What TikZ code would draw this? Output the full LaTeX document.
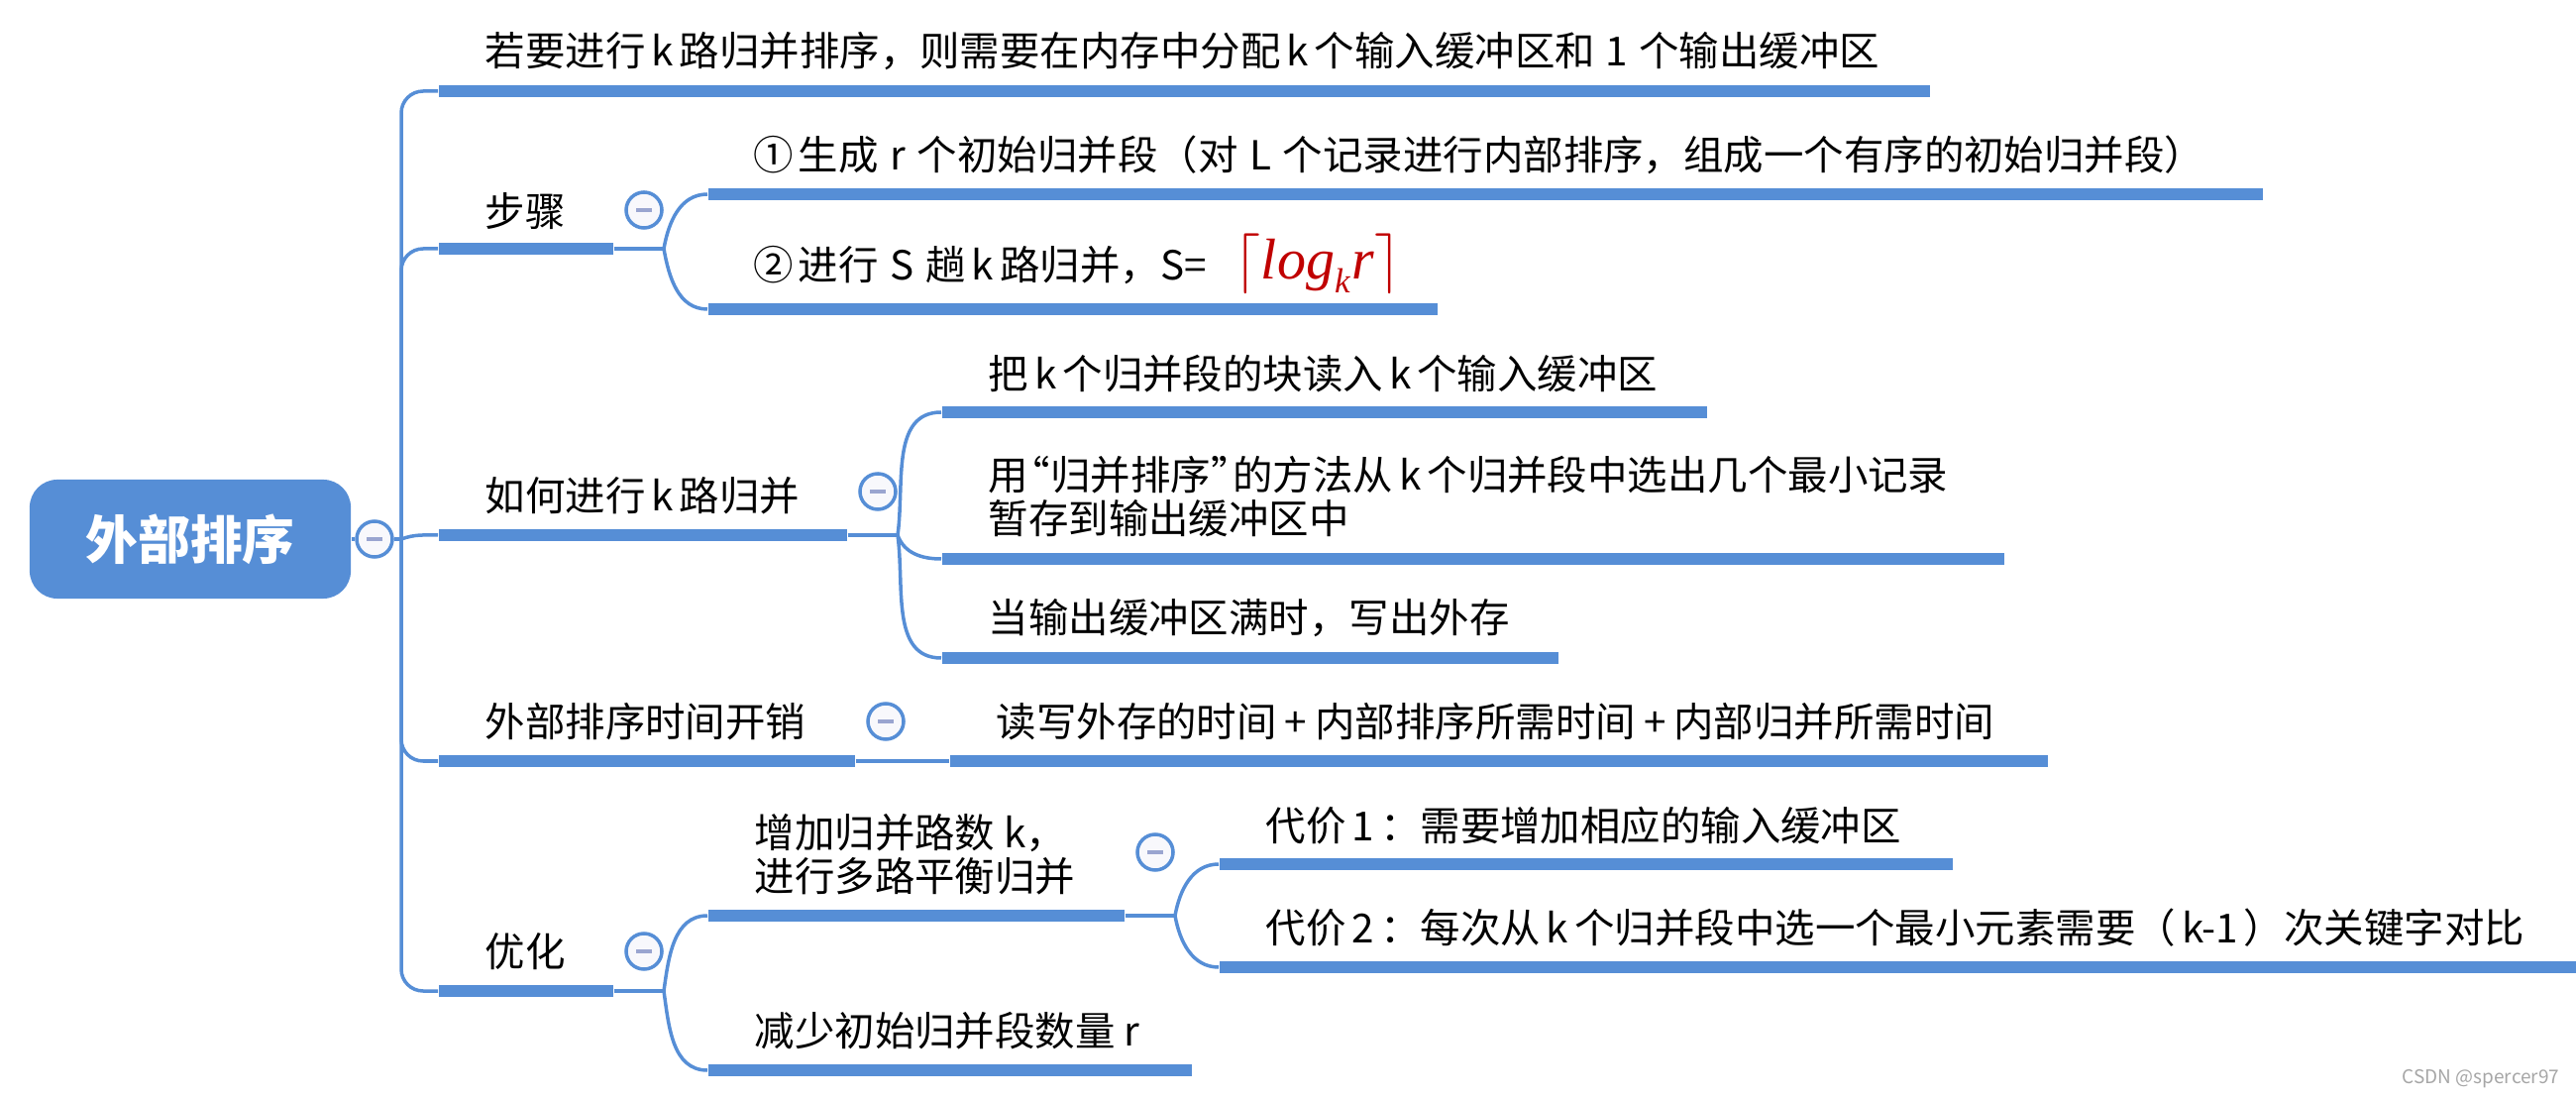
\documentclass[tikz,border=0pt]{standalone}
\usepackage{fontspec}
\setmainfont{Noto Sans CJK SC}
\newfontfamily\logfont{Liberation Serif}
\definecolor{mapblue}{RGB}{86,142,214}
\definecolor{minusgray}{RGB}{154,165,208}
\definecolor{foldfill}{RGB}{248,248,252}
\definecolor{logred}{RGB}{192,0,0}
\newcommand{\nar}[1]{\hspace{0.15em}#1\hspace{0.15em}}
\newcommand{\wid}[1]{\hspace{0.29em}#1\hspace{0.29em}}
\newcommand{\minusmark}{\textcolor{minusgray}{\rule{0.16cm}{0.04cm}}}

\begin{document}
\begin{tikzpicture}[
			x=0.01cm,
			y=-0.01cm,
			font=\fontsize{11.5pt}{12.4pt}\selectfont,
			rootbox/.style={fill=mapblue, rounded corners=0.28cm, minimum width=3.24cm, minimum height=1.2cm, inner sep=0pt, text=white, font=\fontsize{15pt}{16pt}\selectfont\bfseries},
			topic/.style={anchor=west, align=left, inner sep=0pt},
			bar/.style={anchor=west, fill=mapblue, minimum height=0.12cm, inner sep=0pt},
			link/.style={draw=mapblue, line width=0.035cm},
			foldmark/.style={circle, draw=mapblue, line width=0.035cm, fill=foldfill, minimum size=0.36cm, inner sep=0pt}
		]
			\useasboundingbox (0,0) rectangle (2600,1110);

			\node[rootbox] (root) at (192,544) {外部排序};
			\node[foldmark] (rootfold) at (378,544) {\minusmark};
			\coordinate (fork) at (405,544);

			\node[bar, minimum width=15.04cm] (need) at (442,92) {};
			\node[topic] (needtext) at (489,52) {若要进行\nar{k}路归并排序，则需要在内存中分配\nar{k}个输入缓冲区和\hspace{0.27em}1\hspace{0.27em}个输出缓冲区};

			\node[bar, minimum width=1.76cm] (steps) at (442,251) {};
			\node[topic] (stepstext) at (489,213) {步骤};
			\node[foldmark] (stepsfold) at (650,212) {\minusmark};
			\coordinate (stepsfork) at (670,251);
			\node[bar, minimum width=15.68cm] (gen) at (714,196) {};
			\node[topic] (gentext) at (760,156) {①\hspace{0.12em}生成\wid{r}个初始归并段（对\wid{L}个记录进行内部排序，组成一个有序的初始归并段）};
			\node[bar, minimum width=7.36cm] (merge) at (714,312) {};
			\node[topic] (mergetext) at (760,268) {②\hspace{0.12em}进行\wid{S}趟\nar{k}路归并，S=};
			\node[anchor=center, inner sep=0pt, text=logred, font=\fontsize{16.5pt}{18pt}\selectfont] (logk) at (1330,266) {$\lceil\hbox{\logfont\itshape log}_{\hbox{\logfont\itshape\fontsize{10pt}{10pt}\selectfont k}}\hbox{\logfont\itshape r}\rceil$};

			\node[bar, minimum width=4.12cm] (how) at (442,540) {};
			\node[topic] (howtext) at (489,500) {如何进行\nar{k}路归并};
			\node[foldmark] (howfold) at (886,496) {\minusmark};
			\coordinate (howfork) at (906,540);
			\node[bar, minimum width=7.72cm] (load) at (950,416) {};
			\node[topic] (loadtext) at (997,377) {把\nar{k}个归并段的块读入\nar{k}个输入缓冲区};
			\node[bar, minimum width=10.72cm] (pick) at (950,564) {};
			\node[topic] (picktext) at (997,501) {用\hspace{-0.45em}“归并排序”\hspace{-0.45em}的方法从\nar{k}个归并段中选出几个最小记录\\暂存到输出缓冲区中};
			\node[bar, minimum width=6.22cm] (flush) at (950,664) {};
			\node[topic] (flushtext) at (997,624) {当输出缓冲区满时，写出外存};

			\node[bar, minimum width=4.2cm] (cost) at (442,768) {};
			\node[topic] (costtext) at (489,728) {外部排序时间开销};
			\node[foldmark] (costfold) at (894,728) {\minusmark};
			\node[bar, minimum width=11.08cm] (sum) at (958,768) {};
			\node[topic] (sumtext) at (1005,728) {读写外存的时间\hspace{0.2em}+\hspace{0.2em}内部排序所需时间\hspace{0.2em}+\hspace{0.2em}内部归并所需时间};

			\node[bar, minimum width=1.76cm] (opt) at (442,1000) {};
			\node[topic] (opttext) at (489,960) {优化};
			\node[foldmark] (optfold) at (650,960) {\minusmark};
			\coordinate (optfork) at (670,1000);
			\node[bar, minimum width=4.2cm] (more) at (714,924) {};
			\node[topic] (moretext) at (761,862) {增加归并路数 k，\\进行多路平衡归并};
			\node[foldmark] (morefold) at (1166,860) {\minusmark};
			\coordinate (morefork) at (1186,924);
			\node[bar, minimum width=7.4cm] (price) at (1230,872) {};
			\node[topic] (pricetext) at (1277,833) {代价\nar{1}：需要增加相应的输入缓冲区};
			\node[bar, minimum width=13.68cm] (pricetwo) at (1230,976) {};
			\node[topic] (pricetwotext) at (1277,936) {代价\nar{2}：每次从\nar{k}个归并段中选一个最小元素需要（\hspace{0.15em}k-1\hspace{0.15em}）次关键字对比};
			\node[bar, minimum width=4.88cm] (fewer) at (714,1080) {};
			\node[topic] (fewertext) at (761,1040) {减少初始归并段数量 r};

			\node[anchor=east, inner sep=0pt, text=gray!70, font=\fontsize{5.4pt}{7pt}\selectfont] (mark) at (2584,1089) {CSDN @spercer97};

			\draw[link] (root.east) -- (rootfold.west);
			\draw[link] (rootfold.east) -- (fork);

			\draw[link, rounded corners=0.22cm] (fork) |- (need.west);
			\draw[link, rounded corners=0.22cm] (fork) |- (steps.west);
			\draw[link] (fork) to[out=20, in=180] (how.west);
			\draw[link, rounded corners=0.22cm] (fork) |- (cost.west);
			\draw[link, rounded corners=0.22cm] (fork) |- (opt.west);

			\draw[link] (steps.east) -- (stepsfork);
			\draw[link] (stepsfork) to[out=80, in=180] (gen.west);
			\draw[link] (stepsfork) to[out=-80, in=180] (merge.west);

			\draw[link] (how.east) -- (howfork);
			\draw[link] (howfork) to[out=82, in=180] (load.west);
			\draw[link] (howfork) to[out=-70, in=180] (pick.west);
			\draw[link] (howfork) to[out=-82, in=180] (flush.west);

			\draw[link] (cost.east) -- (sum.west);

			\draw[link] (opt.east) -- (optfork);
			\draw[link] (optfork) to[out=82, in=180] (more.west);
			\draw[link] (optfork) to[out=-82, in=180] (fewer.west);

			\draw[link] (more.east) -- (morefork);
			\draw[link] (morefork) to[out=80, in=180] (price.west);
			\draw[link] (morefork) to[out=-80, in=180] (pricetwo.west);
		\end{tikzpicture}
\end{document}
